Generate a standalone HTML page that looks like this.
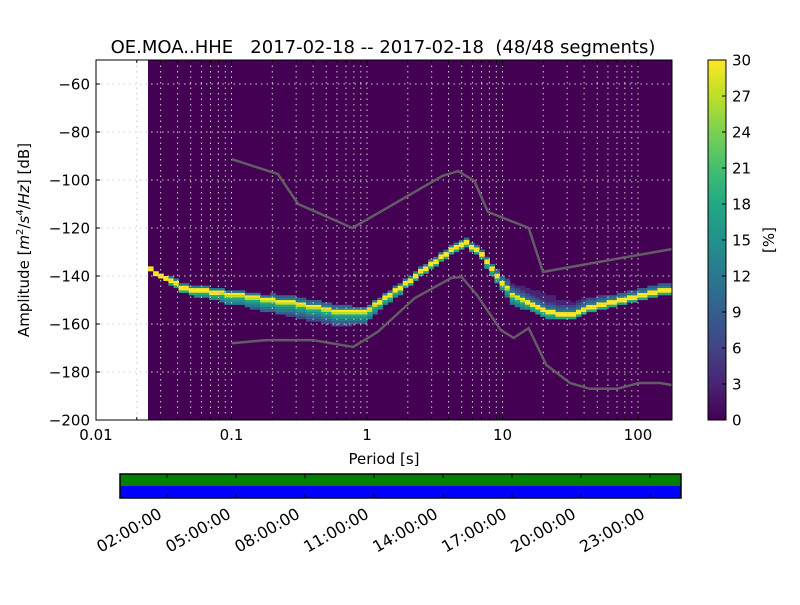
<!DOCTYPE html>
<html><head><meta charset="utf-8"><style>
body{margin:0;background:#fff;width:800px;height:600px;overflow:hidden}
svg text{font-family:"DejaVu Sans","Liberation Sans",sans-serif;}
</style></head><body>
<svg id="c" width="800" height="600" xmlns="http://www.w3.org/2000/svg">
<defs>
<linearGradient id="vir" x1="0" y1="1" x2="0" y2="0">
<stop offset="0" stop-color="#440154"/><stop offset="0.1" stop-color="#482475"/><stop offset="0.2" stop-color="#414487"/><stop offset="0.3" stop-color="#355f8d"/><stop offset="0.4" stop-color="#2a788e"/><stop offset="0.5" stop-color="#21918c"/><stop offset="0.6" stop-color="#22a884"/><stop offset="0.7" stop-color="#44bf70"/><stop offset="0.8" stop-color="#7ad151"/><stop offset="0.9" stop-color="#bddf26"/><stop offset="1" stop-color="#fde725"/>
</linearGradient>
<clipPath id="clip"><rect x="96" y="60" width="576" height="360"/></clipPath>
</defs>
<text x="383" y="53" font-size="18" text-anchor="middle" style="white-space:pre">OE.MOA..HHE   2017-02-18 -- 2017-02-18  (48/48 segments)</text>
<g id="plot" clip-path="url(#clip)"></g>
<g id="axes"></g>
<rect x="96" y="60" width="576" height="360" fill="none" stroke="#000" stroke-width="1"/>
<text x="384" y="464" font-size="15" text-anchor="middle">Period [s]</text>
<text transform="translate(29,240) rotate(-90)" font-size="15" text-anchor="middle">Amplitude [<tspan font-style="italic">m</tspan><tspan font-size="10" dy="-6">2</tspan><tspan dy="6">/</tspan><tspan font-style="italic">s</tspan><tspan font-size="10" dy="-6">4</tspan><tspan dy="6">/</tspan><tspan font-style="italic">Hz</tspan>] [dB]</text>
<rect x="708" y="60" width="18" height="360" fill="url(#vir)" stroke="#000"/>
<g id="cbticks"></g>
<text transform="translate(774,240) rotate(-90)" font-size="15" text-anchor="middle">[%]</text>
<g>
<rect x="120" y="474" width="561" height="12" fill="#008000"/>
<rect x="120" y="486" width="561" height="12" fill="#0000ff"/>
<rect x="120" y="474" width="561" height="24" fill="none" stroke="#000" stroke-width="1.5"/>
</g>
<g id="tticks"></g>
</svg>
<script>
const NS="http://www.w3.org/2000/svg";
const modePeriods=[0.0242,0.0417,0.1,0.32,0.63,0.89,1.25,2.5,4.1,5,6.3,8.1,11.3,18.9,28,44,73,124,177];
const modeDb=[-137.5,-145,-148,-152,-155.5,-155.5,-150,-137.5,-129,-126,-129,-137.5,-148,-154,-156.7,-153,-150,-146.7,-146];
const spreadBelow=[0,1,3,5,5,4,2,1,1,1,1,2,3,2,1,1,1,1,1];
const spreadAbove=[0,1,1,2,2,1,1,1,1,1,1,1,4,6,5,3,2,2,2];
const nhnmPeriods=[0.1,0.22,0.31,0.78,3.6,4.7,6.2,7.8,15.6,19.9,177];
const nhnmDb=[-91.3,-97.5,-110,-120,-98.3,-96.3,-100.4,-113.3,-120,-138.3,-128.8];
const nlnmPeriods=[0.1,0.18,0.4,0.79,1.2,2.25,4.2,5,6.5,9.7,12.1,15.6,21,31.5,44,70,102,145,177];
const nlnmDb=[-168,-166.7,-166.7,-169.6,-163.3,-149.2,-140.8,-140.4,-148,-162.5,-165.8,-161.7,-177,-184.6,-187,-187,-184.6,-184.6,-185.4];
const yTicks=[-60,-80,-100,-120,-140,-160,-180,-200];
const xTicks=[0.01,0.1,1,10,100];
const xTickLabels=["0.01","0.1","1","10","100"];
const cbTicks=[0,3,6,9,12,15,18,21,24,27,30];
const timeLabels=["02:00:00","05:00:00","08:00:00","11:00:00","14:00:00","17:00:00","20:00:00","23:00:00"];
const timeHours=[2,5,8,11,14,17,20,23];

const X=p=>96+(Math.log10(p)+2)*135.5;
const Y=d=>60+(-50-d)*2.4;
const plot=document.getElementById('plot'),axes=document.getElementById('axes');
function mk(tag,attrs,parent){const e=document.createElementNS(NS,tag);for(const k in attrs)e.setAttribute(k,attrs[k]);parent.appendChild(e);return e;}
const vir=["#440154","#482475","#414487","#355f8d","#2a788e","#21918c","#22a884","#44bf70","#7ad151","#bddf26","#fde725"];
function interp(ps,vs,p){const l=Math.log10(p);for(let i=0;i<ps.length-1;i++){const a=Math.log10(ps[i]),b=Math.log10(ps[i+1]);if(l>=a&&l<=b){const t=(l-a)/(b-a);return vs[i]+t*(vs[i+1]-vs[i]);}}return l<Math.log10(ps[0])?vs[0]:vs[vs.length-1];}
let bg=mk('rect',{x:X(modePeriods[0]),y:60,width:672-X(modePeriods[0]),height:360,fill:'#440154'},plot);


const step=0.0376;
for(let l=Math.log10(modePeriods[0]);l<2.3;l+=step){
  const p=Math.pow(10,l);const m=Math.round(interp(modePeriods,modeDb,p));
  const sb=Math.round(interp(modePeriods,spreadBelow,p)),sa=Math.round(interp(modePeriods,spreadAbove,p));
  const x0=X(p),w=135.5*step+0.5;
  const cells=[[m,10],[m-1,sb>2?9:10]];
  for(let k=1;k<=sb;k++)cells.push([m-1-k,Math.max(2,7-k)]);
  for(let k=1;k<=sa;k++)cells.push([m+k,Math.max(1,5-k)]);
  cells.forEach(([d,ci])=>{const r=mk('rect',{x:x0,y:Y(d+1),width:w,height:2.5,fill:vir[ci]},plot);
    
    });
}
for(let dec=-2;dec<=2;dec++)for(let k=1;k<=9;k++){const x=X(k*Math.pow(10,dec));if(x<=96||x>=672)continue;
  const g=mk('line',{x1:x,y1:60,x2:x,y2:420,stroke:'#ccc','stroke-dasharray':'1.5,4','stroke-width':1},plot);
  
  }
yTicks.forEach(v=>{const y=Y(v);const g=mk('line',{x1:96,y1:y,x2:672,y2:y,stroke:'#ccc','stroke-dasharray':'1.5,4'},plot);
  
  
  mk('line',{x1:96,y1:y,x2:100,y2:y,stroke:'#000'},axes);
  const tl=mk('text',{x:90,y:y+5.5,'font-size':15,'text-anchor':'end'},axes);tl.textContent=String(v).replace('-','\u2212');
  
  });
function line(ps,vs,name){const d=ps.map((p,i)=>(i?'L':'M')+X(p).toFixed(1)+','+Y(vs[i]).toFixed(1)).join('');
  const e=mk('path',{d:d,fill:'none',stroke:'#666','stroke-width':2.5,'stroke-opacity':0.9},plot);
  
  }
line(nhnmPeriods,nhnmDb,'nhnm-line');line(nlnmPeriods,nlnmDb,'nlnm-line');
xTicks.forEach((p,i)=>{const x=X(p);mk('line',{x1:x,y1:420,x2:x,y2:414,stroke:'#000'},axes);mk('line',{x1:x,y1:60,x2:x,y2:66,stroke:'#000'},axes);
  const t=mk('text',{x:x,y:440,'font-size':15,'text-anchor':'middle'},axes);t.textContent=xTickLabels[i];
  
  });
for(let dec=-2;dec<=2;dec++)for(let k=2;k<=9;k++){const x=X(k*Math.pow(10,dec));if(x>=672)continue;mk('line',{x1:x,y1:420,x2:x,y2:417,stroke:'#000'},axes);mk('line',{x1:x,y1:60,x2:x,y2:63,stroke:'#000'},axes);}
const cb=document.getElementById('cbticks');
cbTicks.forEach(v=>{const y=420-v/30*360;mk('line',{x1:722,y1:y,x2:726,y2:y,stroke:'#000'},cb);
  const t=mk('text',{x:732,y:y+5.5,'font-size':15},cb);t.textContent=v;
  
  });
const tt=document.getElementById('tticks');
timeHours.forEach((h,i)=>{const x=167+(h-2)/3*69;mk('line',{x1:x,y1:474,x2:x,y2:478,stroke:'#000'},tt);mk('line',{x1:x,y1:498,x2:x,y2:494,stroke:'#000'},tt);
  const t=mk('text',{transform:`translate(${x-4},${517}) rotate(-30)`,'font-size':16,'text-anchor':'end'},tt);t.textContent=timeLabels[i];
  
  });
</script>
</body></html>
